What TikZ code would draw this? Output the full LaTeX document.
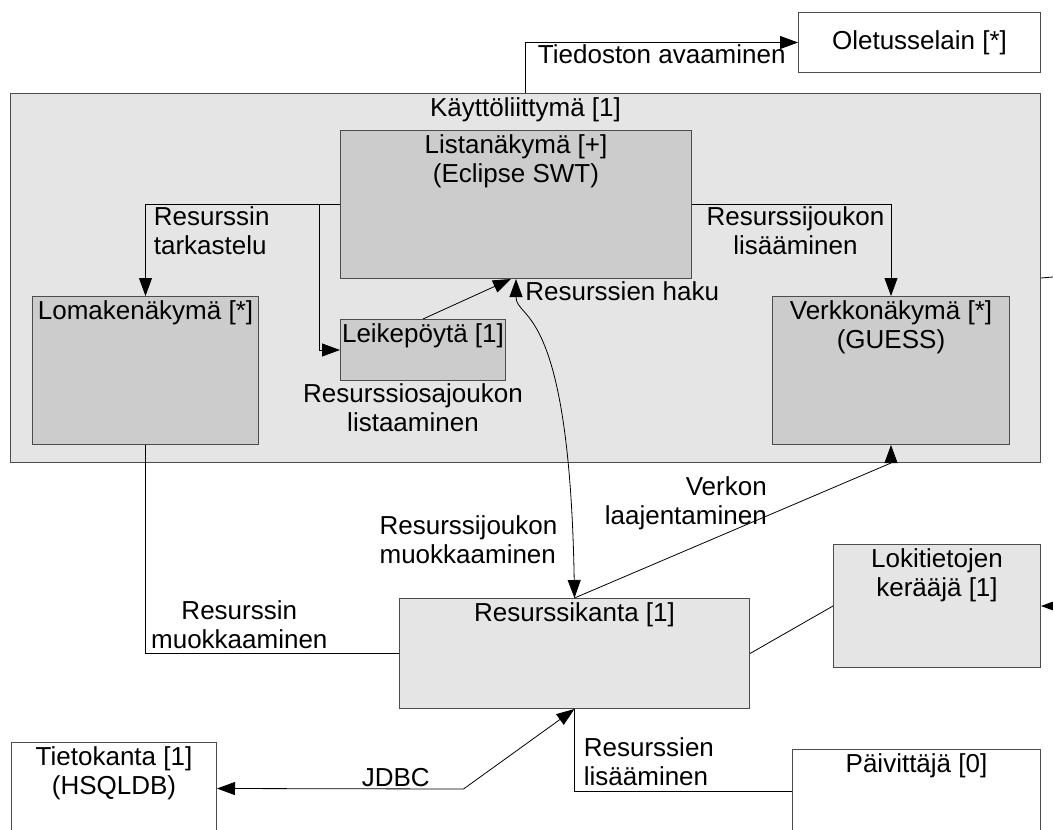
\documentclass[tikz,border=0pt]{standalone}
\usepackage{fontspec}
\setmainfont{Liberation Sans}
\definecolor{uibg}{rgb}{0.90,0.90,0.90}
\definecolor{viewbg}{rgb}{0.80,0.80,0.80}
\usetikzlibrary{arrows.meta}
\begin{document}
\begin{tikzpicture}[x=1pt, y=-1pt,
      font=\fontsize{26}{29}\selectfont,
      box/.style={draw=black!70, line width=1pt, fill=#1,
                  anchor=north west, inner sep=0pt},
      box/.default=white,
      ttl/.style={anchor=north, inner sep=4pt, align=center},
      lbl/.style={inner sep=2pt, align=center},
      con/.style={line width=0.8pt},
      arr/.style={-{Triangle[length=18pt,width=13pt]}, line width=0.8pt},
      dbl/.style={{Triangle[length=18pt,width=13pt]}-{Triangle[length=18pt,width=13pt]}, line width=0.8pt}
  ]
    \useasboundingbox (0,0) rectangle (1053,830);
    \fill[white] (0,0) rectangle (1053,830);
    \node[box=uibg, minimum width=1030, minimum height=369,
          label={[ttl]north:{Käyttöliittymä [1]}}] (ui) at (10,93) {};
    \node[box, minimum width=242, minimum height=60] (brw) at (798,12) {Oletusselain [*]};
    \node[box=viewbg, minimum width=351, minimum height=148,
          label={[ttl]north:{Listanäkymä [+]\\(Eclipse SWT)}}] (list) at (340,130) {};
    \node[box=viewbg, minimum width=226, minimum height=148,
          label={[ttl]north:{Lomakenäkymä [*]}}] (form) at (32,296) {};
    \node[box=viewbg, minimum width=165, minimum height=61,
          label={[ttl]north:{Leikepöytä [1]}},
          label={[lbl, xshift=-10pt]below:{Resurssiosajoukon\\listaaminen}}] (clip) at (340,319) {};
    \node[box=viewbg, minimum width=237, minimum height=148,
          label={[ttl]north:{Verkkonäkymä [*]\\(GUESS)}}] (net) at (772,296) {};
    \node[box=uibg, minimum width=350, minimum height=110,
          label={[ttl]north:{Resurssikanta [1]}}] (db) at (399,598) {};
    \node[box=uibg, minimum width=207, minimum height=123,
          label={[ttl]north:{Lokitietojen\\kerääjä [1]}}] (log) at (833,544) {};
    \node[box, minimum width=205, minimum height=92,
          label={[ttl]north:{Tietokanta [1]\\(HSQLDB)}}] (tdb) at (11,742) {};
    \node[box, minimum width=248, minimum height=84,
          label={[ttl]north:{Päivittäjä [0]}}] (upd) at (792,749) {};
    \coordinate (outui) at (1053,277);
    \coordinate (outlog) at (1053,606);

    \draw[arr] (ui.north) |- (brw.west)
      node[lbl, pos=0.75, below] {Tiedoston avaaminen};
    \draw[arr] (list.west) -| (form.north)
      node[lbl, pos=0.5, anchor=north west, align=left, xshift=6pt] {Resurssin\\tarkastelu};
    \draw[arr] (list.west) -- ++(-21,0) |- (clip.west);
    \draw[arr] (clip.north) -- ([xshift=-5pt]list.south);
    \draw[arr] (list.east) -| (net.north)
      node[lbl, pos=0.26, below] {Resurssijoukon\\lisääminen};
    \draw[dbl] (list.south) .. controls +(0,42) and +(-5,-298) .. (db.north)
      node[lbl, pos=0, anchor=north west, xshift=7pt] {Resurssien haku}
      node[lbl, pos=0.93, anchor=east, align=left, xshift=-13pt] {Resurssijoukon\\muokkaaminen};
    \draw[con] (ui.east) -- (outui);
    \draw[con] (form.south) |- (db.west)
      node[lbl, pos=0.685, above, yshift=2pt] {Resurssin\\muokkaaminen};
    \draw[arr] (db.north) -- node[lbl, pos=0.615, anchor=east, align=right, yshift=12pt] {Verkon\\laajentaminen}
      ([yshift=-18pt]net.south) -- (net.south);
    \draw[con] (db.east) -- (log.west);
    \draw[arr] (outlog) -- (log.east);
    \draw[dbl] (db.south) -- ++(-111,80) -- node[lbl, pos=0.275, above] {JDBC} (tdb.east);
    \draw[con] (db.south) |- (upd.west)
      node[lbl, pos=0.5, anchor=south west, align=left, xshift=7pt, yshift=3pt] {Resurssien\\lisääminen};
  \end{tikzpicture}
\end{document}
